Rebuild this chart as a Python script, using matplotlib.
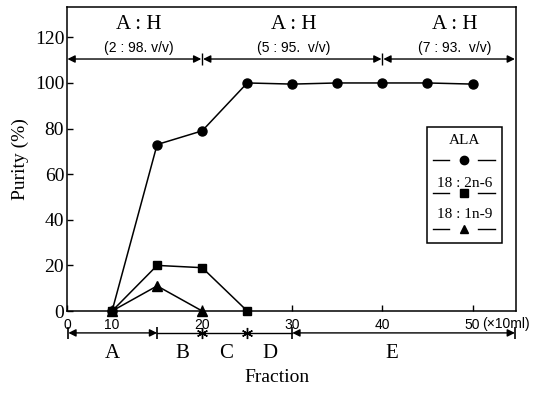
import numpy as np
import matplotlib
matplotlib.use("Agg")
import matplotlib.pyplot as plt
from matplotlib.patches import Rectangle

# data
fraction = [10, 15, 20, 25, 30, 35, 40, 45, 50]
ala = [0, 73, 79, 100, 99.5, 100, 100, 100, 99.5]
frac_26 = [10, 15, 20, 25]
la_26 = [0, 20, 19, 0]
frac_19 = [10, 15, 20]
oa_19 = [0, 11, 0]

xticks = [0, 10, 20, 30, 40, 50]
yticks = [0, 20, 40, 60, 80, 100, 120]

solvent_bounds = [0, 20, 40, 54.8]
solvent_labels = ["(2 : 98. v/v)", "(5 : 95.  v/v)", "(7 : 93.  v/v)"]
solvent_centers = [13, 30.2, 48]

frac_names = ["A", "B", "C", "D", "E"]
frac_centers = [10, 17.8, 22.6, 27.5, 41]

serif = "Liberation Serif"
sans = "Liberation Sans"


# axis break: 0..10 is squeezed to half width
def fwd(x):
    x = np.asarray(x, dtype=float)
    return np.where(x < 10, x * 0.5, x - 5)


def inv(u):
    u = np.asarray(u, dtype=float)
    return np.where(u < 5, u * 2, u + 5)


fig = plt.figure(figsize=(5.39, 4.01), dpi=100)
ax = fig.add_axes([0.1243, 0.2244, 0.8327, 0.7581])
ax.set_xscale("function", functions=(fwd, inv))
ax.set_xlim(0, 54.8)
ax.set_ylim(0, 133.3)

kw = dict(color="black", lw=1.1, clip_on=False, zorder=5)
ax.plot(fraction, ala, marker="o", ms=6.5, **kw)
ax.plot(frac_26, la_26, marker="s", ms=6, **kw)
ax.plot(frac_19, oa_19, marker="^", ms=6.5, **kw)

ax.set_xticks(xticks)
ax.set_xticklabels([str(t) for t in xticks], fontfamily=sans, fontsize=10)
ax.set_yticks(yticks)
ax.set_yticklabels([str(t) for t in yticks], fontfamily=serif, fontsize=14)
ax.tick_params(axis="both", direction="in", length=4, width=1, pad=2)
ax.tick_params(axis="x", pad=5)
ax.text(51.1, -2.6, "(×10ml)", fontfamily=sans, fontsize=10, va="top", ha="left")
for s in ax.spines.values():
    s.set_linewidth(1.1)

ax.set_ylabel("Purity (%)", fontfamily=serif, fontsize=14, labelpad=4)
ax.text(28.3, -29, "Fraction", fontfamily=serif, fontsize=14, ha="center", va="center")

# solvent arrows on top
arr = dict(arrowstyle="<|-|>", color="black", lw=1.0, mutation_scale=11,
           shrinkA=0, shrinkB=0)
y_arr = 110.5
for i in range(3):
    ax.annotate("", xy=(solvent_bounds[i + 1] - 0.1, y_arr),
                xytext=(solvent_bounds[i] + 0.1, y_arr),
                arrowprops=arr, annotation_clip=False)
    ax.text(solvent_centers[i], 125.5, "A : H", fontfamily=serif, fontsize=15,
            ha="center", va="center")
    ax.text(solvent_centers[i], 115.5, solvent_labels[i], fontfamily=sans,
            fontsize=10, ha="center", va="center")
ax.plot([20, 40], [y_arr, y_arr], ls="none", marker="|", ms=9, color="black", mew=1)

# fraction ranges below axis
y_b = -9.6
ax.annotate("", xy=(15, y_b), xytext=(0.3, y_b), arrowprops=arr, annotation_clip=False)
ax.annotate("", xy=(54.7, y_b), xytext=(30, y_b), arrowprops=arr, annotation_clip=False)
ax.plot([15, 30], [y_b, y_b], color="black", lw=1.0, clip_on=False)
ax.plot([20, 25], [y_b, y_b], ls="none", marker=(6, 2, 0), ms=8, mew=1,
        color="black", clip_on=False)
ax.plot([0.3, 15, 30, 54.7], [y_b] * 4, ls="none", marker="|", ms=9, mew=1.2,
        color="black", clip_on=False)
for name, xc in zip(frac_names, frac_centers):
    ax.text(xc, -18.5, name, fontfamily=serif, fontsize=15, ha="center", va="center")

# hand-drawn legend box
ax.add_patch(Rectangle((0.802, 0.224), 0.167, 0.381, transform=ax.transAxes,
                       fill=False, lw=1.1, color="black", zorder=6))
leg_text = ["ALA", "18 : 2n-6", "18 : 1n-9"]
leg_text_y = [0.5625, 0.421, 0.319]
leg_mark = ["o", "s", "^"]
leg_mark_y = [0.497, 0.389, 0.27]
for t, ty, m, my in zip(leg_text, leg_text_y, leg_mark, leg_mark_y):
    ax.text(0.8855, ty, t, transform=ax.transAxes, fontfamily=serif, fontsize=11,
            ha="center", va="center")
    ax.plot([0.815, 0.852], [my, my], transform=ax.transAxes, color="black", lw=1)
    ax.plot([0.915, 0.953], [my, my], transform=ax.transAxes, color="black", lw=1)
    ax.plot([0.8855], [my], transform=ax.transAxes, marker=m, ms=6, color="black")

fig.savefig("out.png", dpi=100)
